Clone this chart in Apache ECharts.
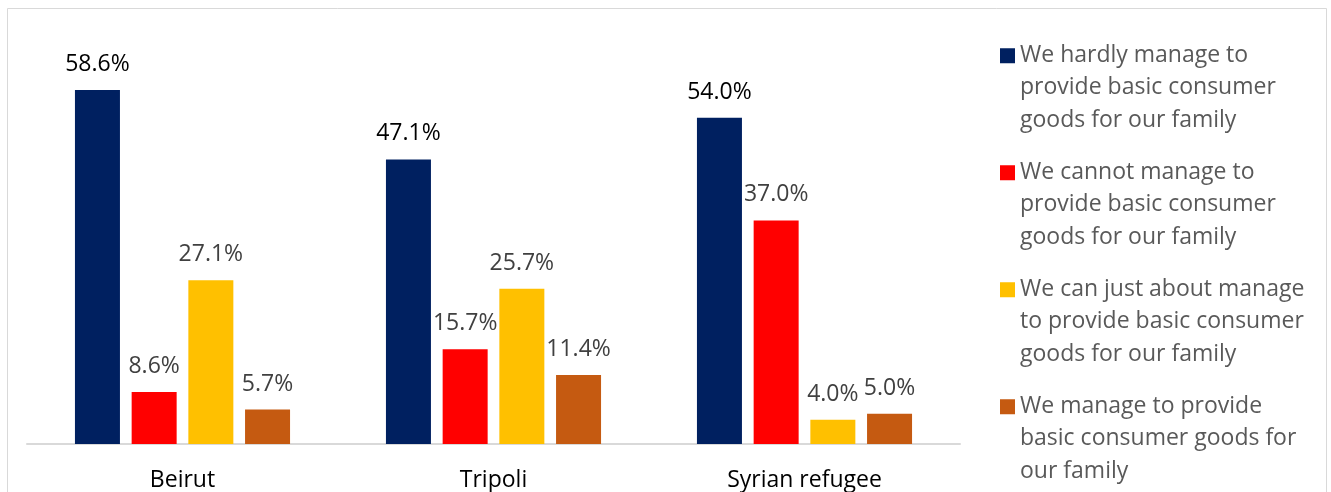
<!DOCTYPE html>
<html>
<head>
<meta charset="utf-8">
<script src="https://cdn.jsdelivr.net/npm/echarts@6/dist/echarts.min.js"></script>
<style>
html,body{margin:0;padding:0;background:#fff;}
#chart{width:1331px;height:492px;}
</style>
</head>
<body>
<div id="chart"></div>
<script>
const categories = ['Beirut', 'Tripoli', 'Syrian refugee'];
const seriesNames = [
  'We hardly manage to provide basic consumer goods for our family',
  'We cannot manage to provide basic consumer goods for our family',
  'We can just about manage to provide basic consumer goods for our family',
  'We manage to provide basic consumer goods for our family'
];
const legendLines = [
  ['We hardly manage to', 'provide basic consumer', 'goods for our family'],
  ['We cannot manage to', 'provide basic consumer', 'goods for our family'],
  ['We can just about manage', 'to provide basic consumer', 'goods for our family'],
  ['We manage to provide', 'basic consumer goods for', 'our family']
];
const hardlyValues = [58.6, 47.1, 54.0];
const cannotValues = [8.6, 15.7, 37.0];
const justAboutValues = [27.1, 25.7, 4.0];
const manageValues = [5.7, 11.4, 5.0];

const colors = ['#002060', '#FF0000', '#FFC000', '#C55A11'];
const labelColors = ['#000000', '#404040', '#404040', '#404040'];
const allValues = [hardlyValues, cannotValues, justAboutValues, manageValues];
const FONT = 'Open Sans';

const chart = echarts.init(document.getElementById('chart'), null, {renderer: 'canvas'});
const series = seriesNames.map((name, i) => ({
  name: name,
  type: 'bar',
  data: allValues[i],
  barWidth: 45,
  barGap: '26%',
  itemStyle: {color: colors[i]},
  label: {
    show: true,
    position: 'top',
    distance: 14,
    color: labelColors[i],
    fontFamily: FONT,
    fontSize: 23,
    formatter: p => p.value.toFixed(1) + '%'
  }
}));

chart.setOption({
  animation: false,
  backgroundColor: '#ffffff',
  graphic: [{
    type: 'rect',
    shape: {x: 7.5, y: 8.5, width: 1319, height: 500},
    style: {fill: 'none', stroke: '#d9d9d9', lineWidth: 1},
    silent: true
  }],
  grid: {left: 27, right: 371, top: 21, bottom: 48, containLabel: false},
  xAxis: {
    type: 'category',
    data: categories,
    axisLine: {lineStyle: {color: '#d9d9d9', width: 2}},
    axisTick: {show: false},
    axisLabel: {color: '#000000', fontFamily: FONT, fontSize: 23, margin: 25}
  },
  yAxis: {
    type: 'value',
    min: 0,
    max: 70,
    show: false,
    splitLine: {show: false}
  },
  legend: {
    orient: 'vertical',
    left: 995,
    top: 34,
    height: 1000,
    itemWidth: 15,
    itemHeight: 97,
    itemGap: 19.5,
    icon: 'path://M0,9L15,9L15,24L0,24Z M0,0L0,97',
    data: seriesNames,
    formatter: name => legendLines[seriesNames.indexOf(name)].join('\n'),
    textStyle: {color: '#595959', fontFamily: FONT, fontSize: 23, lineHeight: 32.5}
  },
  series: series
});
</script>
</body>
</html>
